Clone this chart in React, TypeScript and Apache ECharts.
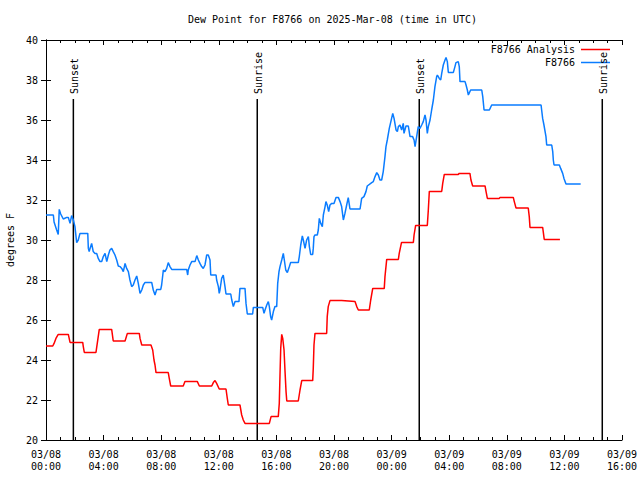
import React, { useEffect, useRef } from "react";
import * as echarts from "echarts";

// Time is in hours since 2025-03-08 00:00 UTC
const analysisTimes = [
  0, 0.47, 0.56, 0.69, 0.85, 1.55, 1.67, 2.55, 2.59, 2.66, 3.47, 3.56, 3.7, 4.56, 4.67, 5.49, 5.65, 6.48, 6.53, 6.65,
  7.29, 7.41, 7.5, 7.57, 7.64, 8.49, 8.56, 8.66, 9.53, 9.65, 10.51, 10.65, 11.51, 11.62, 11.74, 11.85, 12.03, 12.5,
  12.59, 12.66, 13.47, 13.59, 13.7, 13.82, 15.51, 15.63, 16.13, 16.2, 16.25, 16.3, 16.37, 16.44, 16.53, 16.6, 16.67,
  16.72, 17.52, 17.64, 17.76, 18.52, 18.56, 18.61, 18.68, 19.49, 19.53, 19.6, 19.72, 20.53, 21.46, 21.58, 21.69,
  22.45, 22.55, 22.69, 23.49, 23.54, 23.66, 24.47, 24.53, 24.69, 25.51, 25.56, 25.67, 26.48, 26.55, 26.62, 27.48,
  27.55, 27.66, 28.63, 28.7, 29.44, 29.51, 29.63, 30.49, 30.56, 30.65, 31.48, 31.53, 32.45, 32.52, 32.64, 33.49,
  33.56, 33.61, 34.49, 34.53, 34.6, 35.69,
];
const analysisDewPoints = [
  24.7, 24.7, 24.83, 25.08, 25.28, 25.28, 24.88, 24.88, 24.67, 24.38, 24.38, 24.83, 25.53, 25.53, 24.95, 24.95, 25.33,
  25.33, 25.08, 24.75, 24.75, 24.5, 24.0, 23.75, 23.37, 23.37, 23.08, 22.7, 22.7, 22.92, 22.92, 22.7, 22.7, 22.87,
  22.97, 22.83, 22.55, 22.55, 22.08, 21.75, 21.75, 21.25, 21.0, 20.83, 20.83, 21.17, 21.17, 21.83, 23.25, 24.58, 25.28,
  25.08, 24.5, 23.42, 22.42, 21.95, 21.95, 22.5, 22.97, 22.97, 23.58, 24.75, 25.33, 25.33, 26.17, 26.67, 26.97, 26.97,
  26.92, 26.67, 26.5, 26.5, 27.0, 27.58, 27.58, 28.17, 29.03, 29.03, 29.33, 29.88, 29.88, 30.25, 30.73, 30.73, 31.5,
  32.43, 32.43, 32.83, 33.28, 33.28, 33.33, 33.33, 33.0, 32.7, 32.7, 32.42, 32.08, 32.08, 32.13, 32.13, 31.92, 31.6,
  31.6, 31.17, 30.63, 30.63, 30.42, 30.03, 30.03,
];

const stationTimes = [
  0, 0.51, 0.56, 0.74, 0.85, 0.92, 1.02, 1.2, 1.44, 1.55, 1.67, 1.78, 1.9, 2.01, 2.13, 2.24, 2.36, 2.9, 2.94, 3.0,
  3.06, 3.17, 3.28, 3.4, 3.52, 3.63, 3.75, 3.87, 3.98, 4.1, 4.22, 4.33, 4.44, 4.56, 4.67, 4.79, 4.91, 5.02, 5.14,
  5.26, 5.37, 5.49, 5.6, 5.72, 5.83, 5.95, 6.06, 6.18, 6.3, 6.41, 6.53, 6.65, 6.76, 6.88, 7.34, 7.45, 7.57, 7.69,
  7.97, 8.03, 8.15, 8.26, 8.38, 8.49, 8.61, 8.73, 9.77, 9.84, 9.88, 10.0, 10.12, 10.35, 10.47, 10.58, 10.69, 10.81,
  10.92, 11.04, 11.16, 11.27, 11.39, 11.44, 11.81, 11.85, 11.97, 12.03, 12.08, 12.2, 12.31, 12.43, 12.5, 12.83,
  12.9, 13.01, 13.13, 13.4, 13.47, 13.82, 13.89, 13.98, 14.35, 14.4, 15.05, 15.14, 15.21, 15.33, 15.44, 15.51, 15.6,
  15.67, 15.79, 15.9, 16.02, 16.09, 16.18, 16.25, 16.37, 16.48, 16.55, 16.65, 16.76, 16.9, 16.99, 17.52, 17.59,
  17.69, 17.8, 17.87, 17.99, 18.1, 18.22, 18.29, 18.38, 18.52, 18.56, 18.61, 18.68, 18.84, 18.91, 18.98, 19.08,
  19.19, 19.26, 19.38, 19.44, 19.53, 19.63, 19.72, 19.84, 20.0, 20.14, 20.3, 20.42, 20.53, 20.65, 20.76, 20.88,
  20.99, 21.11, 21.81, 21.92, 22.08, 22.22, 22.31, 22.62, 22.73, 22.85, 22.97, 23.08, 23.19, 23.31, 23.42, 23.54,
  23.61, 23.7, 23.84, 24.0, 24.08, 24.17, 24.31, 24.4, 24.47, 24.58, 24.7, 24.81, 24.86, 25.0, 25.16, 25.28, 25.46,
  25.56, 25.63, 25.74, 25.85, 25.97, 26.09, 26.2, 26.32, 26.39, 26.48, 26.55, 26.67, 26.78, 26.9, 27.01, 27.13,
  27.18, 27.31, 27.41, 27.48, 27.59, 27.71, 27.78, 27.87, 27.94, 28.29, 28.4, 28.47, 28.63, 28.7, 28.75, 29.1,
  29.17, 29.26, 29.33, 29.49, 30.26, 30.33, 30.42, 30.79, 30.95, 34.38, 34.42, 34.49, 34.58, 34.72, 34.77, 35.12,
  35.19, 35.23, 35.28, 35.65, 35.74, 35.88, 35.97, 36.11, 37.13,
];
const stationDewPoints = [
  31.25, 31.25, 30.9, 30.5, 30.28, 31.53, 31.3, 31.05, 31.13, 31.13, 30.83, 31.22, 31.0, 30.67, 29.87, 30.0, 30.33,
  30.33, 29.58, 29.42, 29.58, 29.83, 29.42, 29.33, 29.33, 29.08, 28.92, 28.92, 29.17, 29.33, 28.92, 29.25, 29.5,
  29.58, 29.42, 29.25, 29.0, 28.7, 28.67, 28.58, 28.42, 28.83, 28.58, 28.42, 28.0, 27.67, 27.75, 28.0, 28.2, 27.83,
  27.33, 27.5, 27.75, 27.88, 27.88, 27.5, 27.25, 27.53, 27.53, 27.75, 28.5, 28.42, 28.58, 28.87, 28.67, 28.53, 28.53,
  28.25, 28.5, 28.75, 28.92, 28.92, 29.22, 29.0, 28.83, 28.67, 28.58, 28.75, 29.25, 29.25, 29.0, 28.25, 28.25, 28.0,
  27.67, 27.33, 27.5, 28.08, 28.25, 27.67, 27.3, 27.3, 27.0, 26.67, 26.92, 26.92, 27.58, 27.58, 26.83, 26.3, 26.3,
  26.63, 26.63, 26.33, 26.5, 26.75, 26.92, 26.67, 26.17, 26.0, 26.42, 26.67, 26.67, 27.83, 28.42, 28.67, 29.0,
  29.33, 29.0, 28.5, 28.37, 28.67, 28.87, 28.87, 29.17, 29.75, 30.2, 30.0, 29.58, 30.0, 30.17, 29.67, 29.28, 29.28,
  29.58, 30.17, 30.25, 30.25, 30.5, 31.08, 30.83, 30.67, 31.25, 31.67, 31.92, 31.75, 31.42, 31.75, 31.83, 31.83,
  32.12, 32.13, 31.92, 31.67, 31.0, 31.33, 31.75, 32.12, 31.55, 31.55, 32.08, 32.17, 32.42, 32.7, 32.87, 32.92,
  33.17, 33.37, 33.25, 33.0, 33.0, 33.42, 34.17, 34.67, 35.0, 35.58, 36.08, 36.33, 36.08, 35.5, 35.42, 35.67, 35.75,
  35.5, 35.83, 35.33, 35.7, 35.7, 35.17, 35.17, 35.0, 34.67, 35.17, 35.67, 35.58, 35.75, 35.92, 36.25, 36.0, 35.33,
  35.67, 36.0, 36.5, 37.0, 37.67, 38.17, 38.25, 38.08, 38.0, 38.33, 38.75, 39.0, 39.13, 38.92, 38.38, 38.38, 38.67,
  38.87, 38.92, 38.67, 37.92, 37.92, 37.75, 37.5, 37.25, 37.5, 37.5, 37.17, 36.5, 36.5, 36.75, 36.75, 36.5, 36.08,
  35.75, 35.17, 34.75, 34.75, 34.42, 34.0, 33.75, 33.75, 33.58, 33.33, 33.08, 32.8, 32.8,
];

const sunEventNames = ["Sunset", "Sunrise", "Sunset", "Sunrise"];
const sunEventTimes = [1.9, 14.67, 25.92, 38.63];
const sunLineTop = 37.05;

const FONT = "DejaVu Sans Mono";

function zip(a: number[], b: number[]) {
  return a.map((t, i) => [t, b[i]]);
}

function fmtTick(v: number) {
  const day = 8 + Math.floor(v / 24);
  const hr = Math.round(v % 24);
  return `03/${String(day).padStart(2, "0")}\n${String(hr).padStart(2, "0")}:00`;
}

export default function App() {
  const ref = useRef<HTMLDivElement>(null);
  useEffect(() => {
    if (!ref.current) return;
    const chart = echarts.init(ref.current, undefined, { renderer: "svg" });
    const xCommon = {
      type: "value" as const,
      min: 0,
      max: 40,
      interval: 4,
      splitLine: { show: false },
      axisLine: { show: true, lineStyle: { color: "#000", width: 1 } },
      axisTick: { show: true, inside: true, length: 5, lineStyle: { color: "#000" } },
      minorTick: { show: true, splitNumber: 4, length: 3, lineStyle: { color: "#000" } },
    };
    const yCommon = {
      type: "value" as const,
      min: 20,
      max: 40,
      interval: 2,
      splitLine: { show: false },
      axisLine: { show: true, lineStyle: { color: "#000", width: 1 } },
      axisTick: { show: true, inside: true, length: 5, lineStyle: { color: "#000" } },
    };
    chart.setOption({
      animation: false,
      backgroundColor: "#fff",
      title: {
        text: "Dew Point for F8766 on 2025-Mar-08 (time in UTC)",
        left: 188,
        top: 14,
        padding: 0,
        textStyle: { fontFamily: FONT, fontSize: 10, fontWeight: "normal", color: "#000" },
      },
      grid: { left: 46, right: 18, top: 40, bottom: 40, containLabel: false, outerBoundsMode: "none" },
      xAxis: [
        {
          ...xCommon,
          position: "bottom",
          axisLabel: {
            formatter: fmtTick,
            fontFamily: FONT,
            fontSize: 10,
            color: "#000",
            margin: 8,
            lineHeight: 12,
            showMaxLabel: true,
            showMinLabel: true,
          },
        },
        { ...xCommon, position: "top", axisLabel: { show: false } },
      ],
      yAxis: [
        {
          ...yCommon,
          position: "left",
          name: "degrees F",
          nameLocation: "middle",
          nameGap: 30,
          nameTextStyle: { fontFamily: FONT, fontSize: 10, color: "#000" },
          axisLabel: { fontFamily: FONT, fontSize: 10, color: "#000", margin: 8 },
        },
        { ...yCommon, position: "right", axisLabel: { show: false } },
      ],
      series: [
        {
          name: "F8766 Analysis",
          type: "line",
          data: zip(analysisTimes, analysisDewPoints),
          showSymbol: false,
          symbol: "none",
          lineStyle: { color: "#ff0000", width: 1.5 },
          silent: true,
        },
        {
          name: "F8766",
          type: "line",
          data: zip(stationTimes, stationDewPoints),
          showSymbol: false,
          symbol: "none",
          lineStyle: { color: "#0a7cff", width: 1.5 },
          silent: true,
        },
        {
          name: "sun",
          type: "custom",
          silent: true,
          clip: false,
          data: sunEventTimes.map((t, i) => [t, sunLineTop, i]),
          renderItem: (params: any, api: any) => {
            const t = api.value(0);
            const bottom = api.coord([t, 20]);
            const top = api.coord([t, api.value(1)]);
            const idx = api.value(2);
            return {
              type: "group",
              children: [
                {
                  type: "line",
                  shape: { x1: bottom[0], y1: bottom[1], x2: top[0], y2: top[1] },
                  style: { stroke: "#000", lineWidth: 1.5 },
                },
                {
                  type: "text",
                  x: top[0] + 1,
                  y: top[1] - 5,
                  rotation: Math.PI / 2,
                  style: {
                    text: sunEventNames[idx],
                    fontFamily: FONT,
                    fontSize: 10,
                    fill: "#000",
                    textAlign: "left",
                    textVerticalAlign: "middle",
                  },
                },
              ],
            };
          },
        },
      ],
      graphic: [
        {
          type: "text",
          right: 640 - 575,
          top: 44,
          style: { text: "F8766 Analysis", fontFamily: FONT, fontSize: 10, fill: "#000" },
        },
        { type: "line", shape: { x1: 581, y1: 49.5, x2: 610, y2: 49.5 }, style: { stroke: "#ff0000", lineWidth: 1.5 } },
        {
          type: "text",
          right: 640 - 575,
          top: 57,
          style: { text: "F8766", fontFamily: FONT, fontSize: 10, fill: "#000" },
        },
        { type: "line", shape: { x1: 581, y1: 62.5, x2: 610, y2: 62.5 }, style: { stroke: "#0a7cff", lineWidth: 1.5 } },
      ],
    });
    return () => chart.dispose();
  }, []);
  return (
    <div
      ref={ref}
      style={{ position: "fixed", left: 0, top: 0, width: 640, height: 480, background: "#fff" }}
    />
  );
}
